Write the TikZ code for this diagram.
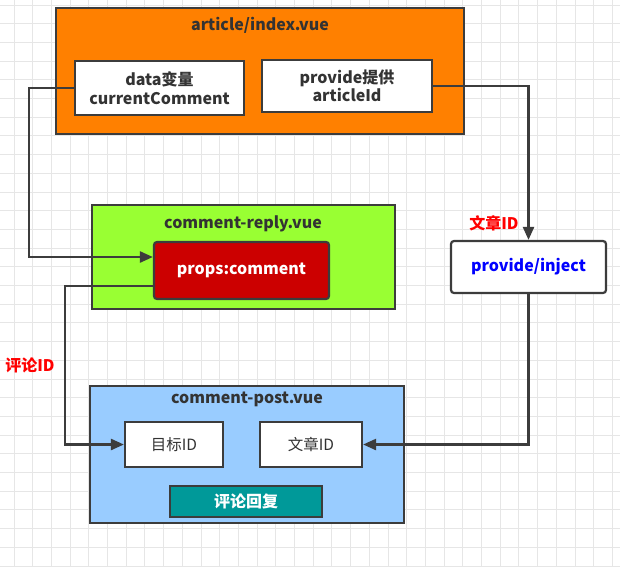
\documentclass[tikz,border=0pt]{standalone}
\usepackage{fontspec}
\setmainfont{Noto Sans CJK SC}
\usetikzlibrary{arrows.meta}
\definecolor{gridc}{HTML}{E6E6E6}
\definecolor{linec}{HTML}{3C3C3C}
\definecolor{orangec}{HTML}{FF8000}
\definecolor{limec}{HTML}{99FF33}
\definecolor{redc}{HTML}{CC0000}
\definecolor{bluec}{HTML}{99CCFF}
\definecolor{tealc}{HTML}{009999}
\definecolor{txtc}{HTML}{333333}
\tikzset{
  box/.style={draw=linec,line width=2.2pt,minimum width=#1,inner sep=0pt,align=center},
  ttl/.style={font=\fontsize{16}{18.5}\selectfont\bfseries,text=txtc},
  btxt/.style={font=\fontsize{16}{18.5}\selectfont\bfseries,text=txtc},
  rtxt/.style={font=\fontsize{15.5}{18}\selectfont,text=txtc},
  conn/.style={draw=linec,line width=2.4pt},
  arr/.style={conn,-{Triangle[length=13pt,width=11pt]}},
  lbl/.style={font=\fontsize{16}{18.5}\selectfont\bfseries,text=red}
}
\begin{document}
\begin{tikzpicture}[x=1pt,y=-1pt]
\useasboundingbox (0,0) rectangle (620,566);
\fill[white] (0,0) rectangle (620,566);
\foreach \i in {0,...,33} {
  \draw[gridc,line width=1pt] ({14+18.7*\i},0) -- ({14+18.7*\i},566);
  \draw[gridc,line width=1pt] (0,{5+18.7*\i}) -- (620,{5+18.7*\i});
}
% article/index.vue
\node[box=408pt,minimum height=126pt,fill=orangec] (art) at (260,71) {};
\node[ttl] (artt) at (260,25) {article/index.vue};
\node[box=169pt,minimum height=54pt,fill=white,btxt] (data) at (159.5,88) {data变量\\currentComment};
\node[box=170pt,minimum height=52pt,fill=white,btxt] (prov) at (347,86) {provide提供\\articleId};
% comment-reply.vue
\node[box=303pt,minimum height=104pt,fill=limec] (rep) at (243.5,257) {};
\node[ttl] (rept) at (243,224) {comment-reply.vue};
\node[box=175pt,minimum height=57pt,fill=redc,rounded corners=3pt,btxt,text=white] (props) at (241.5,270.5) {props:comment};
% provide/inject
\node[box=155pt,minimum height=52pt,fill=white,rounded corners=3pt,btxt,text=blue] (inj) at (528.5,267) {provide/inject};
\node[lbl] (l1) at (494,223) {文章ID};
% comment-post.vue
\node[box=314pt,minimum height=137pt,fill=bluec] (post) at (247,454.5) {};
\node[ttl] (postt) at (247,399) {comment-post.vue};
\node[box=98pt,minimum height=45pt,fill=white,rtxt] (tgt) at (174,444.5) {目标ID};
\node[box=102pt,minimum height=45pt,fill=white,rtxt] (aid) at (311,444.5) {文章ID};
\node[box=152pt,minimum height=31pt,fill=tealc,btxt,text=white] (rr) at (246,501.5) {评论回复};
\node[lbl] (l2) at (30,365) {评论ID};
% connectors
\draw[arr] (data.west) -- (29,88) |- ([yshift=13.5pt]props.west);
\draw[arr] ([yshift=-15.5pt]props.west) -- (65,286) |- (tgt.west);
\draw[arr] (prov.east) -| (inj.north);
\draw[arr] (inj.south) |- (aid.east);
\end{tikzpicture}
\end{document}
